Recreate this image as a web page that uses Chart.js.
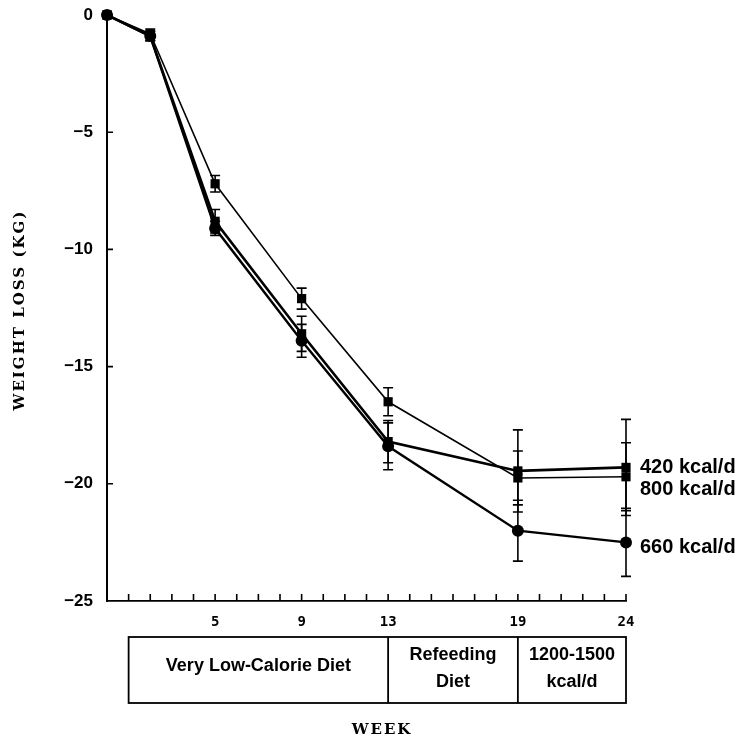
<!DOCTYPE html>
<html>
<head>
<meta charset="utf-8">
<script src="https://cdn.jsdelivr.net/npm/chart.js@4.4.0/dist/chart.umd.min.js"></script>
<style>
html, body { margin: 0; padding: 0; background: #fff; }
</style>
</head>
<body>
<canvas id="weight-chart" width="738" height="742"></canvas>
<script>
// week of measurement
const weeks = [0, 2, 5, 9, 13, 19, 24];
// mean weight change (kg) per diet group
const kcal420 = [0, -0.9, -8.8, -13.6, -18.2, -19.45, -19.3];
const kcal800 = [0, -0.8, -7.2, -12.1, -16.5, -19.75, -19.7];
const kcal660 = [0, -0.9, -9.1, -13.9, -18.4, -22.0, -22.5];
// error bar half-widths (kg)
const err420 = [0, 0.2, 0.5, 0.75, 0.9, 1.75, 2.05];
const err800 = [0, 0.2, 0.35, 0.45, 0.6, 1.15, 1.45];
const err660 = [0, 0.2, 0.3, 0.7, 1.0, 1.3, 1.45];
const seriesNames = ['420 kcal/d', '800 kcal/d', '660 kcal/d'];
const labelledWeeks = [5, 9, 13, 19, 24];
const phaseBounds = [1, 13, 19, 24];
const phaseNames = [['Very Low-Calorie Diet'], ['Refeeding', 'Diet'], ['1200-1500', 'kcal/d']];

const ctx = document.getElementById('weight-chart').getContext('2d');
const sans = '"Liberation Sans", Arial, sans-serif';
const serif = '"DejaVu Serif", serif';
const mono = '"DejaVu Sans Mono", monospace';

function pts(vals) {
  return vals.map((v, i) => ({x: weeks[i], y: v}));
}

const series = [
  {name: seriesNames[0], vals: kcal420, errs: err420, style: 'rect', radius: 6.5, width: 2.6, labelOffset: 0},
  {name: seriesNames[1], vals: kcal800, errs: err800, style: 'rect', radius: 6.5, width: 1.6, labelOffset: 13},
  {name: seriesNames[2], vals: kcal660, errs: err660, style: 'circle', radius: 6, width: 2.4, labelOffset: 5}
];

const extras = {
  id: 'extras',
  beforeDatasetsDraw(chart) {
    const {ctx, scales: {x, y}} = chart;
    ctx.save();
    ctx.strokeStyle = '#000';
    ctx.lineWidth = 1.6;
    series.forEach(s => {
      s.vals.forEach((v, i) => {
        if (!s.errs[i]) return;
        const px = x.getPixelForValue(weeks[i]);
        const top = y.getPixelForValue(v + s.errs[i]);
        const bot = y.getPixelForValue(v - s.errs[i]);
        ctx.beginPath();
        ctx.moveTo(px, top); ctx.lineTo(px, bot);
        ctx.moveTo(px - 5, top); ctx.lineTo(px + 5, top);
        ctx.moveTo(px - 5, bot); ctx.lineTo(px + 5, bot);
        ctx.stroke();
      });
    });
    ctx.restore();
  },
  afterDraw(chart) {
    const {ctx, chartArea, scales: {x, y}} = chart;
    ctx.save();
    ctx.strokeStyle = '#000';
    ctx.fillStyle = '#000';
    ctx.lineWidth = 1.6;

    // inward tick marks
    ctx.beginPath();
    for (let w = 1; w <= 24; w++) {
      const px = x.getPixelForValue(w);
      ctx.moveTo(px, chartArea.bottom);
      ctx.lineTo(px, chartArea.bottom - 7);
    }
    for (let v = -20; v <= 0; v += 5) {
      const py = y.getPixelForValue(v);
      ctx.moveTo(chartArea.left, py);
      ctx.lineTo(chartArea.left + 6, py);
    }
    ctx.stroke();

    // series labels at right
    ctx.font = 'bold 20px ' + sans;
    ctx.textAlign = 'left';
    ctx.textBaseline = 'middle';
    series.forEach(s => {
      const py = y.getPixelForValue(s.vals[s.vals.length - 1]) + s.labelOffset;
      ctx.fillText(s.name, 640, py);
    });

    // diet phase box
    const boxTop = 637, boxBottom = 703;
    ctx.lineWidth = 1.8;
    const bx0 = x.getPixelForValue(phaseBounds[0]);
    const bx1 = x.getPixelForValue(phaseBounds[phaseBounds.length - 1]);
    ctx.strokeRect(bx0, boxTop, bx1 - bx0, boxBottom - boxTop);
    ctx.beginPath();
    for (let i = 1; i < phaseBounds.length - 1; i++) {
      const px = x.getPixelForValue(phaseBounds[i]);
      ctx.moveTo(px, boxTop);
      ctx.lineTo(px, boxBottom);
    }
    ctx.stroke();
    ctx.font = 'bold 18px ' + sans;
    ctx.textAlign = 'center';
    phaseNames.forEach((lines, i) => {
      const cx = (x.getPixelForValue(phaseBounds[i]) + x.getPixelForValue(phaseBounds[i + 1])) / 2;
      const cy = (boxTop + boxBottom) / 2;
      lines.forEach((t, j) => {
        const off = (j - (lines.length - 1) / 2) * 27;
        ctx.fillText(t, cx, cy + off - (lines.length === 1 ? 4 : 1));
      });
    });

    // axis titles
    ctx.font = 'bold 15px ' + serif;
    ctx.letterSpacing = '2px';
    ctx.fillText('WEEK', 382, 730);
    ctx.translate(20, 310);
    ctx.rotate(-Math.PI / 2);
    ctx.fillText('WEIGHT LOSS (KG)', 0, 0);
    ctx.restore();
  }
};

const weightChart = new Chart(ctx, {
  type: 'line',
  data: {
    datasets: series.map(s => ({
      label: s.name,
      data: pts(s.vals),
      borderColor: '#000',
      backgroundColor: '#000',
      borderWidth: s.width,
      pointStyle: s.style,
      pointRadius: s.radius,
      pointBorderWidth: 0,
      tension: 0,
      clip: false
    }))
  },
  options: {
    responsive: false,
    animation: false,
    layout: {padding: {left: 0, right: 112, top: 15, bottom: 0}},
    plugins: {legend: {display: false}, tooltip: {enabled: false}},
    scales: {
      x: {
        type: 'linear',
        min: 0,
        max: 24,
        afterFit: scale => {
          scale.height = 141;
          scale.paddingLeft = 0;
          scale.paddingRight = 0;
        },
        grid: {display: false, drawTicks: false},
        border: {display: true, color: '#000', width: 1.8},
        ticks: {
          stepSize: 1,
          autoSkip: false,
          maxRotation: 0,
          padding: 13,
          color: '#000',
          font: {family: mono, weight: 'bold', size: 14},
          callback: v => labelledWeeks.includes(v) ? String(v) : ''
        }
      },
      y: {
        min: -25,
        max: 0,
        afterFit: scale => {
          scale.width = 107;
          scale.paddingTop = 0;
          scale.paddingBottom = 0;
        },
        grid: {display: false, drawTicks: false},
        border: {display: true, color: '#000', width: 2},
        ticks: {
          stepSize: 5,
          padding: 14,
          color: '#000',
          font: {family: sans, weight: 'bold', size: 17},
          callback: v => String(v).replace('-', '\u2212')
        }
      }
    }
  },
  plugins: [extras]
});
</script>
</body>
</html>
